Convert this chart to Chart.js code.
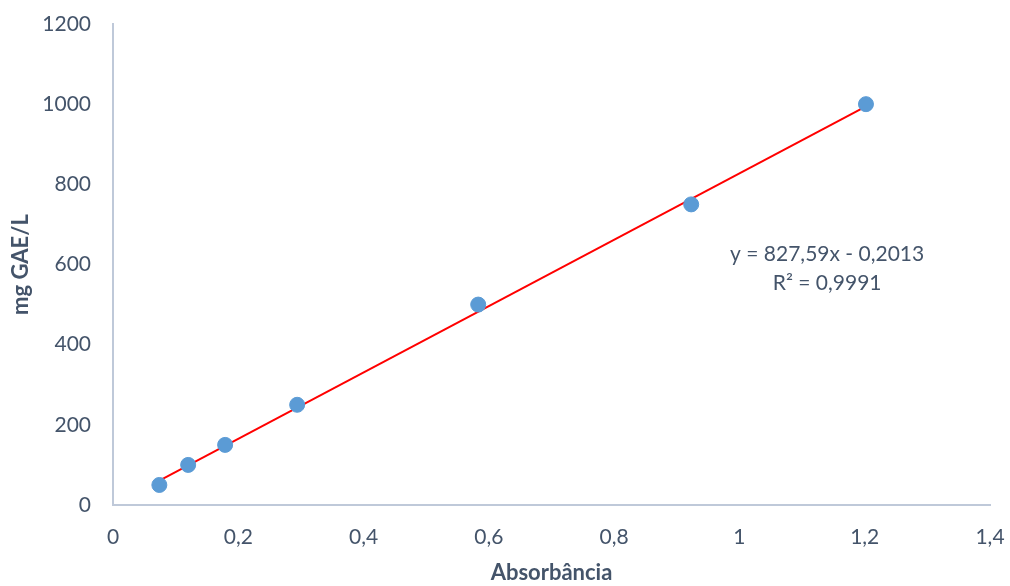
<!DOCTYPE html>
<html>
<head>
<meta charset="utf-8">
<script src="https://cdn.jsdelivr.net/npm/chart.js@4.4.1/dist/chart.umd.min.js"></script>
<style>
  html, body { margin: 0; padding: 0; background: #ffffff; }
  #wrap { width: 1010px; height: 586px; position: relative; }
</style>
</head>
<body>
<div id="wrap"><canvas id="c" width="1010" height="586"></canvas></div>
<script>
// Calibration data: absorbance vs. gallic acid equivalents
const absorbance = [0.074, 0.120, 0.179, 0.294, 0.583, 0.923, 1.202];
const concentration = [50, 100, 150, 250, 500, 750, 1000];

// Linear fit reported on the chart
const slope = 827.59;
const intercept = -0.2013;
const r2Label = 'R² = 0,9991';
const eqLabel = 'y = 827,59x - 0,2013';

const xTicks = [0, 0.2, 0.4, 0.6, 0.8, 1, 1.2, 1.4];
const yTicks = [0, 200, 400, 600, 800, 1000, 1200];

const textColor = '#44546A';
const axisColor = '#BFC9D9';
const fontFamily = 'Lato, "Open Sans", sans-serif';

const points = absorbance.map((x, i) => ({ x: x, y: concentration[i] }));
const xMin = Math.min(...absorbance);
const xMax = Math.max(...absorbance);
const fitLine = [
  { x: xMin, y: slope * xMin + intercept },
  { x: xMax, y: slope * xMax + intercept }
];

const fmt = v => Number(Number(v).toFixed(1)).toString().replace('.', ',');

const equationPlugin = {
  id: 'equationText',
  afterDatasetsDraw(chart) {
    const { ctx, scales } = chart;
    const cx = scales.x.getPixelForValue(1.140);
    const cy = scales.y.getPixelForValue(626);
    ctx.save();
    ctx.fillStyle = textColor;
    ctx.font = '21px ' + fontFamily;
    ctx.textAlign = 'center';
    ctx.textBaseline = 'middle';
    ctx.fillText(eqLabel, cx, cy);
    ctx.fillText(r2Label, cx, cy + 29);
    ctx.restore();
  }
};

new Chart(document.getElementById('c'), {
  type: 'scatter',
  data: {
    datasets: [
      {
        type: 'line',
        data: fitLine,
        borderColor: '#FF0000',
        borderWidth: 2,
        pointRadius: 0,
        fill: false,
        order: 2
      },
      {
        data: points,
        backgroundColor: '#5B9BD5',
        borderColor: '#5B9BD5',
        pointRadius: 7.5,
        pointHoverRadius: 7.5,
        order: 1
      }
    ]
  },
  options: {
    responsive: false,
    animation: false,
    layout: { padding: { left: 0, right: 20, top: 24, bottom: 0 } },
    plugins: {
      legend: { display: false },
      tooltip: { enabled: false }
    },
    scales: {
      x: {
        type: 'linear',
        min: 0,
        max: 1.4,
        afterBuildTicks: s => { s.ticks = xTicks.map(v => ({ value: v })); },
        afterFit: s => { s.height = 81; s.paddingLeft = 0; s.paddingRight = 0; },
        grid: { display: false },
        border: { display: true, color: axisColor, width: 2 },
        ticks: {
          color: textColor,
          font: { family: fontFamily, size: 21 },
          padding: 12,
          maxRotation: 0,
          callback: v => fmt(v)
        },
        title: {
          display: true,
          text: 'Absorbância',
          color: textColor,
          font: { family: fontFamily, size: 22, weight: 'bold' },
          padding: { top: 6, bottom: 0 }
        }
      },
      y: {
        type: 'linear',
        min: 0,
        max: 1200,
        afterBuildTicks: s => { s.ticks = yTicks.map(v => ({ value: v })); },
        afterFit: s => { s.width = 113; s.paddingTop = 0; s.paddingBottom = 0; },
        grid: { display: false },
        border: { display: true, color: axisColor, width: 2 },
        ticks: {
          color: textColor,
          font: { family: fontFamily, size: 21 },
          padding: 14,
          callback: v => fmt(v)
        },
        title: {
          display: true,
          text: 'mg GAE/L',
          color: textColor,
          font: { family: fontFamily, size: 22, weight: 'bold' },
          padding: { top: 8, bottom: 0 }
        }
      }
    }
  },
  plugins: [equationPlugin]
});
</script>
</body>
</html>
